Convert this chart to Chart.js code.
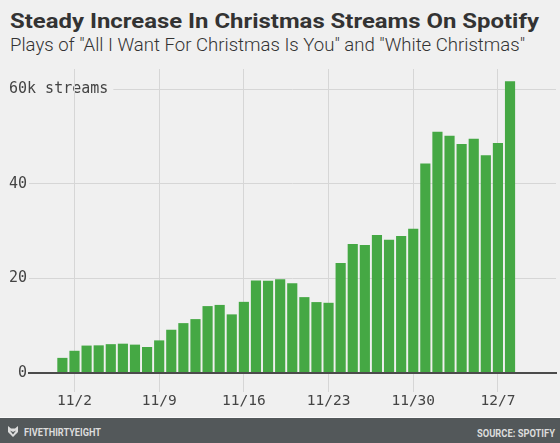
<!DOCTYPE html>
<html>
<head>
<meta charset="utf-8">
<script src="https://cdn.jsdelivr.net/npm/chart.js"></script>
<style>
  html, body { margin: 0; padding: 0; }
  body { width: 560px; height: 443px; background: #f0f0f0; position: relative; overflow: hidden; font-family: Roboto, "Noto Sans", sans-serif; }
  .txt { position: absolute; white-space: nowrap; line-height: 1; transform-origin: 0 0; }
  #title { left: 10px; top: 10.6px; font-size: 21px; font-weight: 700; color: #333; }
  #subtitle { left: 10px; top: 37px; font-size: 17.5px; font-weight: 300; color: #333; }
  #chartBox { position: absolute; left: 0; top: 0; }
  #footer { position: absolute; left: 0; top: 417px; width: 560px; height: 26px; background: #53585a; border-top: 1px solid #fafafa; box-sizing: border-box; }
  #brand { left: 24px; top: 9px; font-size: 11.5px; font-weight: 700; color: #dcdcdc; }
  #source { left: 477px; top: 10px; font-size: 11.5px; font-weight: 700; color: #dcdcdc; }
  #logo { position: absolute; left: 8px; top: 8px; }
</style>
</head>
<body>
<div id="title" class="txt">Steady Increase In Christmas Streams On Spotify</div>
<div id="subtitle" class="txt">Plays of "All I Want For Christmas Is You" and "White Christmas"</div>
<div id="chartBox"><canvas id="chart" width="560" height="417"></canvas></div>
<div id="footer">
  <svg id="logo" width="10" height="11" viewBox="0 0 10 11"><path d="M0 0 L3 2.5 L7 2.5 L10 0 L10 6 L5 11 L0 6 Z M2 4.5 L5 8.5 L8 4.5 L5 6 Z" fill="#dcdcdc" fill-rule="evenodd"/></svg>
  <div id="brand" class="txt">FIVETHIRTYEIGHT</div>
  <div id="source" class="txt">SOURCE: SPOTIFY</div>
</div>
<script>
// daily plays, in thousands of streams
const dates = [
  "11/1", "11/2", "11/3", "11/4", "11/5", "11/6", "11/7", "11/8", "11/9", "11/10",
  "11/11", "11/12", "11/13", "11/14", "11/15", "11/16", "11/17", "11/18", "11/19", "11/20",
  "11/21", "11/22", "11/23", "11/24", "11/25", "11/26", "11/27", "11/28", "11/29", "11/30",
  "12/1", "12/2", "12/3", "12/4", "12/5", "12/6", "12/7", "12/8"
];
const streams = [
  3.2, 4.7, 5.8, 5.85, 6.1, 6.2, 6.0, 5.5, 6.9, 9.15,
  10.55, 11.4, 14.15, 14.4, 12.4, 15.05, 19.55, 19.5, 19.85, 19.0,
  16.05, 15.0, 14.85, 23.25, 27.3, 27.05, 29.2, 28.2, 29.0, 30.5,
  44.3, 51.05, 50.2, 48.45, 49.55, 46.05, 48.65, 61.7
];
const tickDates = ["11/2", "11/9", "11/16", "11/23", "11/30", "12/7"];
const yTicks = [0, 20, 40, 60];

const monoFont = { family: "'DejaVu Sans Mono', 'Liberation Mono', monospace", size: 14.5 };

function fit(id, w) {
  const el = document.getElementById(id);
  const r = el.getBoundingClientRect().width;
  el.style.transform = "scaleX(" + (w / r) + ")";
}
fit("title", 529);
fit("subtitle", 515);
fit("brand", 77);
fit("source", 78);

const ctx = document.getElementById("chart").getContext("2d");
new Chart(ctx, {
  type: "bar",
  data: {
    datasets: [
      {
        data: dates.map((d, i) => ({ x: i + 1, y: streams[i] })),
        backgroundColor: "#45a844",
        borderWidth: 0,
        categoryPercentage: 1,
        barPercentage: 0.84,
      },
    ],
  },
  options: {
    responsive: false,
    animation: false,
    layout: { padding: { left: 9, right: 4, top: 69, bottom: 0 } },
    plugins: { legend: { display: false }, tooltip: { enabled: false } },
    scales: {
      x: {
        type: "linear",
        min: -1.76,
        max: 41.8,
        offset: false,
        afterBuildTicks: (s) => {
          s.ticks = tickDates.map((t) => ({ value: dates.indexOf(t) + 1 }));
        },
        afterFit: (s) => {
          s.height = 44;
        },
        grid: { offset: false, color: "#d6d6d6", lineWidth: 1, tickLength: 19 },
        border: { display: true, color: "#4b4b4b", width: 2, z: 1 },
        ticks: {
          font: monoFont,
          color: "#444",
          padding: 1,
          maxRotation: 0,
          autoSkip: false,
          callback: (v) => dates[v - 1],
        },
      },
      y: {
        min: 0,
        max: 64.3,
        afterBuildTicks: (s) => {
          s.ticks = yTicks.map((v) => ({ value: v }));
        },
        afterFit: (s) => {
          s.width = 20;
        },
        grid: { color: "#d6d6d6", lineWidth: 1, drawTicks: false, z: -2 },
        border: { display: false },
        ticks: {
          z: -1.5,
          mirror: true,
          padding: -20,
          crossAlign: "near",
          font: { family: monoFont.family, size: 15 },
          color: "#444",
          callback: (v) => (v === 60 ? "60k streams" : String(v).padStart(2, " ")),
          showLabelBackdrop: (c) => c.tick && c.tick.value === 60,
          backdropColor: "#f0f0f0",
          backdropPadding: { left: 0, right: 5, top: 1, bottom: 1 },
        },
      },
    },
  },
});
</script>
</body>
</html>
